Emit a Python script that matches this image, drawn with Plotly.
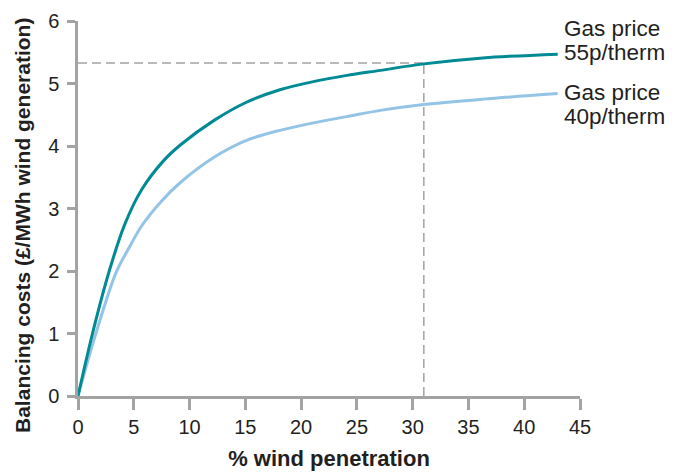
import plotly.graph_objects as go

# Data
pct_55p = [0, 1.3, 2.8, 4.2, 5.7, 7.7, 9.2, 12.2, 15.1, 18.1, 21.1, 24.1, 27.1, 30.8, 36.3, 43]
cost_55p = [0, 1.0, 2.0, 2.75, 3.3, 3.77, 4.02, 4.41, 4.70, 4.90, 5.03, 5.13, 5.21, 5.31, 5.41, 5.47]
pct_40p = [0, 1.6, 3.4, 4.6, 5.7, 7.5, 9.2, 12.2, 15.1, 18.1, 21.1, 24.1, 27.1, 30.8, 36.3, 43]
cost_40p = [0, 1.0, 1.97, 2.38, 2.72, 3.12, 3.42, 3.82, 4.09, 4.25, 4.37, 4.47, 4.57, 4.66, 4.75, 4.84]
ref_pct = 31
ref_cost = 5.33
x_ticks = [0, 5, 10, 15, 20, 25, 30, 35, 40, 45]
y_ticks = [0, 1, 2, 3, 4, 5, 6]

DARK = "#008a94"
LIGHT = "#93c4e6"
AXIS = "#a3a3a3"
TEXT = "#231f20"
FONT = "Liberation Sans"

fig = go.Figure()
fig.add_trace(go.Scatter(x=pct_40p, y=cost_40p, mode="lines",
                         line=dict(color=LIGHT, width=3, shape="spline", smoothing=0.9),
                         showlegend=False, cliponaxis=False))
fig.add_trace(go.Scatter(x=pct_55p, y=cost_55p, mode="lines",
                         line=dict(color=DARK, width=3, shape="spline", smoothing=0.9),
                         showlegend=False, cliponaxis=False))

dash = dict(color=AXIS, width=1.5, dash="9px,5px")
fig.add_shape(type="line", x0=0, x1=ref_pct, y0=ref_cost, y1=ref_cost, line=dash, layer="below")
fig.add_shape(type="line", x0=ref_pct, x1=ref_pct, y0=0, y1=ref_cost, line=dash, layer="below")

labels = [("Gas price", 5.88), ("55p/therm", 5.50), ("Gas price", 4.86), ("40p/therm", 4.48)]
for txt, yv in labels:
    fig.add_annotation(x=43.4, y=yv, text=txt, showarrow=False, xanchor="left", yanchor="middle",
                       font=dict(family=FONT, size=22.5, color=TEXT))

# y-axis title as rotated text, placed lower than the plot centre as in the reference
fig.add_annotation(x=-0.1116, y=0.456, xref="paper", yref="paper",
                   text="<b>Balancing costs (£/MWh wind generation)</b>", textangle=-90,
                   showarrow=False, xanchor="center", yanchor="middle",
                   font=dict(family=FONT, size=21, color=TEXT))

# the page body adds an 8px offset, so the figure is sized to fit the window
fig.update_layout(
    width=677, height=464,
    margin=dict(l=70, r=105, t=13, b=76),
    paper_bgcolor="white", plot_bgcolor="white",
    font=dict(family=FONT, color=TEXT),
)
fig.update_xaxes(range=[0, 45], tickvals=x_ticks, showgrid=False, zeroline=False,
                 showline=True, linecolor=AXIS, linewidth=2.5, automargin=False,
                 ticks="outside", ticklen=11, tickwidth=2.5, tickcolor=AXIS,
                 tickfont=dict(family=FONT, size=20, color=TEXT),
                 title=dict(text="<b>% wind penetration</b>", standoff=14,
                            font=dict(family=FONT, size=22, color=TEXT)))
fig.update_yaxes(range=[0, 6], tickvals=y_ticks, showgrid=False, zeroline=False,
                 showline=True, linecolor=AXIS, linewidth=2.5, automargin=False,
                 ticks="outside", ticklen=8, tickwidth=2.5, tickcolor=AXIS,
                 ticklabelstandoff=4,
                 tickfont=dict(family=FONT, size=20, color=TEXT))

fig.write_html("out.html")
